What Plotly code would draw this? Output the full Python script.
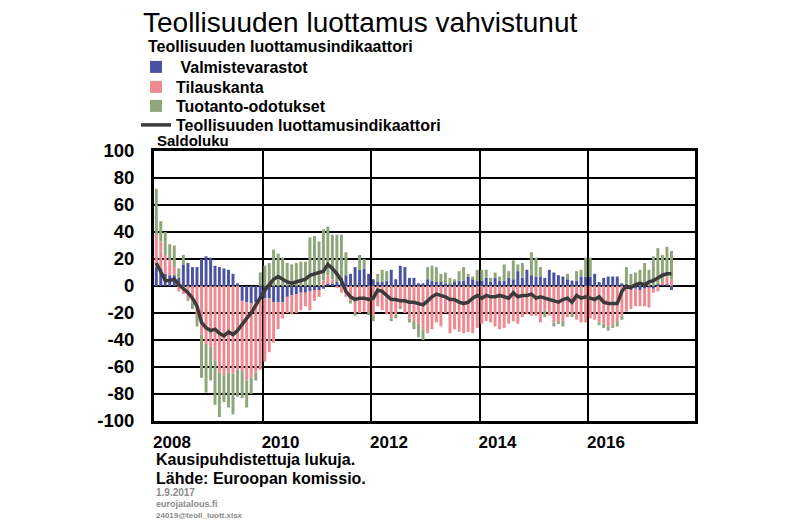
import plotly.graph_objects as go
import pandas as pd

# Monthly data, Jan 2008 - Jul 2017 (saldoluku)
months = pd.date_range("2008-01-01", periods=115, freq="MS").strftime("%Y-%m-%d").tolist()

valmistevarastot = [
    14, 13, 9, 8, 8, 6, 16, 17, 14, 14, 20, 22,
    21, 15, 14, 13, 12, 9, 2, -11, -12, -13, -12, -10,
    -9, -9, -12, -12, -12, -8, -7, -6, -5, -5, -4, -3,
    -3, -2, 2, 2, 3, 6, 8, 9, 14, 12, 13, 9,
    5, 3, 3, 4, 12, 5, 15, 14, 6, 6, 2, 2,
    5, 4, 3, 3, 2, 1, 3, 4, 4, 7, 5, 4,
    4, 6, 3, 6, 4, 4, 6, 5, 11, 6, 12, 8,
    7, 7, 6, 12, 10, 8, 7, 5, 4, 4, 7, 7,
    7, 9, 3, 6, 7, 7, 7, 2, -2, -3, -2, -3,
    -2, -1, -2, 1, 1, 1, -3,
]
tilauskanta = [
    24, 20, 14, 11, 6, -4, -6, -9, -12, -22, -36, -43,
    -45, -55, -64, -66, -64, -65, -62, -52, -58, -55, -52, -52,
    -47, -40, -30, -20, -12, -12, -14, -14, -13, -10, -14, -8,
    -5, 4, 6, 3, -1, -5, -8, -11, -20, -20, -19, -20,
    -22, -15, -18, -21, -24, -21, -16, -20, -24, -26, -28, -32,
    -35, -32, -27, -30, -20, -35, -32, -34, -35, -34, -35, -31,
    -28, -26, -27, -30, -32, -31, -28, -26, -28, -23, -21, -22,
    -22, -27, -18, -22, -27, -26, -26, -23, -20, -25, -27, -27,
    -24, -25, -27, -28, -30, -29, -26, -22, -17, -14, -13, -12,
    -13, -15, -3, -4, 2, 6, 5,
]
tuotanto_odotukset = [
    34, 15, 17, 12, 16, 7, 7, -2, -5, -8, -32, -36,
    -25, -33, -33, -20, -26, -30, -20, -20, -20, -12, -6, 10,
    15, 17, 27, 24, 21, 17, 16, 17, 18, 18, 36, 37,
    33, 38, 36, 33, 35, 32, 17, -2, -2, 11, 7, -1,
    -4, 6, 9, 7, -2, -3, -1, 0, -3, -6, -10, -8,
    9, 11, 11, 6, 8, 5, 2, 7, 10, 2, 2, 8,
    8, 6, 3, 4, 3, 12, 5, 14, 5, 11, 0, 17,
    14, 7, -5, 0, -3, -2, -4, 4, -3, 7, 5, 14,
    14, 0, -2, -3, -3, -2, -4, -3, 14, 9, 10, 12,
    17, 12, 22, 27, 20, 22, 21,
]
luottamusindikaattori = [
    17, 11, 4, 4, 5, 1, -2, -5, -9, -15, -27, -31,
    -33, -32, -35, -37, -34, -36, -33, -28, -24, -20, -14, -8,
    -3, 1, 5, 7, 5, 3, 2, 3, 4, 5, 8, 9,
    10, 11, 16, 13, 9, 4, -4, -8, -10, -9, -9, -10,
    -9, -3, -4, -7, -10, -10, -11, -11, -12, -12, -13, -14,
    -11, -8, -6, -7, -8, -10, -10, -12, -13, -12, -9, -7,
    -9, -7, -8, -8, -7, -8, -9, -5, -8, -7, -7, -6,
    -9, -8, -9, -10, -11, -12, -10, -9, -12, -7, -9, -8,
    -9, -10, -8, -12, -13, -13, -13, -4, 0, -1, 1, 2,
    1, 3, 4, 6, 8, 9, 9,
]

series_names = ["Valmistevarastot", "Tilauskanta", "Tuotanto-odotukset",
                "Teollisuuden luottamusindikaattori"]
ytick_vals = [100, 80, 60, 40, 20, 0, -20, -40, -60, -80, -100]
ytick_text = ["100", "80", "60", "40", "20", "0", "-20", "-40", "-60", "-80", "-100"]

BLUE = "#4a52a2"
PINK = "#f08a91"
GREEN = "#8ea67a"
LINE = "#3b3b3b"
GRAY = "#8a8a8a"
FONT = "Liberation Sans, Arial, sans-serif"

# page is rendered with an 8px body margin -> figure is 8px smaller
W, H = 792, 514
PLOT_L, PLOT_R, PLOT_T, PLOT_B = 154, 695, 151, 421  # page pixels


def px(x):
    return (x - PLOT_L) / (PLOT_R - PLOT_L)


def py(y):
    return (PLOT_B - y) / (PLOT_B - PLOT_T)


bar_width = 20 * 24 * 3600 * 1000  # ms

fig = go.Figure()
legend_ids = ["legend", "legend2", "legend3", "legend4"]
for i, (vals, col) in enumerate([(valmistevarastot, BLUE),
                                 (tilauskanta, PINK),
                                 (tuotanto_odotukset, GREEN)]):
    name = series_names[i]
    fig.add_trace(go.Bar(
        x=months, y=vals, name=(" " + name) if i == 0 else name,
        marker=dict(color=col, line=dict(width=0)),
        width=bar_width, xperiod="M1", xperiodalignment="middle",
        legend=legend_ids[i],
    ))
fig.add_trace(go.Scatter(
    x=months, y=luottamusindikaattori, name=series_names[3], mode="lines",
    line=dict(color=LINE, width=3.5), xperiod="M1", xperiodalignment="middle",
    legend=legend_ids[3],
))

legend_rows = [67, 87, 106, 125]
legend_common = dict(
    xanchor="left", yanchor="middle", orientation="v",
    bgcolor="rgba(0,0,0,0)", borderwidth=0, itemwidth=30,
    font=dict(family=FONT, size=16, color="black", weight="bold"),
)
legend_layout = {}
for lid, row in zip(legend_ids, legend_rows):
    legend_layout[lid] = dict(x=px(136), y=py(row), **legend_common)

fig.update_layout(
    width=W, height=H,
    margin=dict(l=PLOT_L - 8, r=8 + W - PLOT_R, t=PLOT_T - 8, b=8 + H - PLOT_B),
    paper_bgcolor="white", plot_bgcolor="white",
    barmode="relative",
    font=dict(family=FONT, size=16, color="black", weight="bold"),
    title=dict(text="Teollisuuden luottamus vahvistunut", x=(143 - 8) / W, xanchor="left",
               y=1 - (22 - 8) / H, yanchor="middle",
               font=dict(family=FONT, size=28, color="black", weight="normal")),
    showlegend=True,
    **legend_layout,
    xaxis=dict(
        type="date", range=["2008-01-01", "2017-12-22"],
        tick0="2008-01-01", dtick="M24", tickformat="%Y",
        showgrid=True, gridcolor="black", gridwidth=1.5,
        showline=True, mirror=True, linecolor="black", linewidth=3,
        ticks="", ticklabelshift=18, ticklabelstandoff=4,
        tickfont=dict(family=FONT, size=17, color="black", weight="bold"),
    ),
    yaxis=dict(
        range=[-100, 100], tickvals=ytick_vals, ticktext=ytick_text,
        showgrid=True, gridcolor="black", gridwidth=1.5,
        zeroline=True, zerolinecolor="black", zerolinewidth=1.5,
        showline=True, mirror=True, linecolor="black", linewidth=3,
        ticks="", ticklabelstandoff=13,
        tickfont=dict(family=FONT, size=18.5, color="black", weight="bold"),
    ),
    annotations=[
        dict(text="Teollisuuden luottamusindikaattori", xref="paper", yref="paper",
             x=px(146), y=py(46), xanchor="left", yanchor="middle", showarrow=False,
             font=dict(family=FONT, size=16, color="black", weight="bold")),
        dict(text="Saldoluku", xref="paper", yref="paper", x=px(155), y=1.0,
             xanchor="left", yanchor="bottom", showarrow=False,
             font=dict(family=FONT, size=15, color="black", weight="bold")),
        dict(text="Kausipuhdistettuja lukuja.", xref="paper", yref="paper",
             x=px(154), y=py(459), xanchor="left", yanchor="middle", showarrow=False,
             font=dict(family=FONT, size=16, color="black", weight="bold")),
        dict(text="Lähde: Euroopan komissio.", xref="paper", yref="paper",
             x=px(154), y=py(478), xanchor="left", yanchor="middle", showarrow=False,
             font=dict(family=FONT, size=16, color="black", weight="bold")),
        dict(text="1.9.2017", xref="paper", yref="paper",
             x=px(154), y=py(492), xanchor="left", yanchor="middle", showarrow=False,
             font=dict(family=FONT, size=10, color=GRAY, weight="bold")),
        dict(text="eurojatalous.fi", xref="paper", yref="paper",
             x=px(154), y=py(504), xanchor="left", yanchor="middle", showarrow=False,
             font=dict(family=FONT, size=9, color=GRAY, weight="bold")),
        dict(text="24019@teoll_luott.xlsx", xref="paper", yref="paper",
             x=px(154), y=py(515), xanchor="left", yanchor="middle", showarrow=False,
             font=dict(family=FONT, size=8, color=GRAY, weight="bold")),
    ],
)

fig.write_html("out.html")
